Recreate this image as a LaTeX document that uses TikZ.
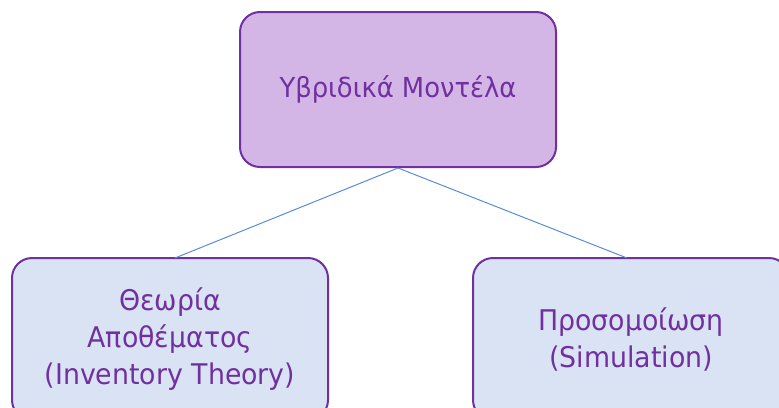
\documentclass[tikz,border=0pt]{standalone}
\usepackage{fontspec}
\setmainfont{DejaVu Sans}[FakeStretch=0.94]
\definecolor{boxline}{HTML}{7030A0}
\definecolor{topfill}{HTML}{D3B6E6}
\definecolor{subfill}{HTML}{DAE3F3}
\definecolor{linkline}{HTML}{5B8BD6}
\begin{document}
\begin{tikzpicture}[x=1pt,y=-1pt,
  card/.style={draw=boxline, line width=2pt, rounded corners=20pt,
    text=boxline, align=center, inner sep=0pt},
  bigtext/.style={font=\fontsize{27.5}{37}\selectfont},
  subtext/.style={font=\fontsize{28.5}{37}\selectfont},
  link/.style={draw=linkline, line width=1pt}]
\useasboundingbox (0,0) rectangle (779,407);
% top-level box
\node[card, bigtext, fill=topfill, minimum width=316pt, minimum height=155pt]
  (top) at (398,89.5) {Υβριδικά Μοντέλα};
% child boxes
\node[card, subtext, fill=subfill, minimum width=316pt, minimum height=162pt]
  (inv) at (170,339) {Θεωρία\\Αποθέματος\\(Inventory Theory)};
\node[card, subtext, fill=subfill, minimum width=316pt, minimum height=162pt]
  (sim) at (631,339) {Προσομοίωση\\(Simulation)};
% connectors
\coordinate (invtop) at (175,258);
\coordinate (simtop) at (627,258);
\draw[link] (top.south) -- (invtop);
\draw[link] (top.south) -- (simtop);
\end{tikzpicture}
\end{document}
